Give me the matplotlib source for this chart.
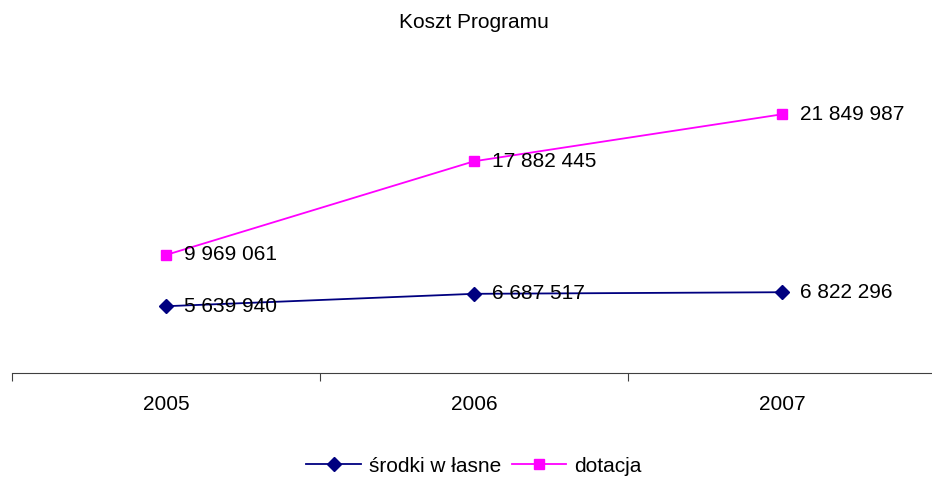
import matplotlib
matplotlib.use('Agg')
import matplotlib.pyplot as plt

# Data
years = ['2005', '2006', '2007']
srodki_wlasne = [5639940, 6687517, 6822296]
dotacja = [9969061, 17882445, 21849987]

plt.rcParams['font.family'] = ['Liberation Sans', 'DejaVu Sans']

fig = plt.figure(figsize=(9.32, 4.78), dpi=100)
ax = fig.add_axes([12 / 932, 1 - 373 / 478, 924 / 932, 296 / 478])

x = range(len(years))
ax.plot(x, srodki_wlasne, color='#000080', marker='D', markersize=7.5, linewidth=1.3,
        label='środki w łasne')
ax.plot(x, dotacja, color='#FF00FF', marker='s', markersize=7, linewidth=1.3,
        label='dotacja')

def fmt(v):
    return f'{v:,}'.replace(',', ' ')

for xi, v in zip(x, srodki_wlasne):
    ax.annotate(fmt(v), (xi, v), xytext=(13, 0), textcoords='offset points',
                ha='left', va='center', fontsize=15)
for xi, v in zip(x, dotacja):
    ax.annotate(fmt(v), (xi, v), xytext=(13, 0), textcoords='offset points',
                ha='left', va='center', fontsize=15)

ax.set_xlim(-0.5, 2.5)
ax.set_ylim(0, 25000000)
ax.set_yticks([])
ax.set_xticks([-0.5, 0.5, 1.5, 2.5])
ax.set_xticklabels([])
ax.set_xticks(list(x), minor=True)
ax.set_xticklabels(years, minor=True, fontsize=15)
ax.tick_params(axis='x', which='major', length=6, color='#404040', direction='out')
ax.tick_params(axis='x', which='minor', length=0, pad=16)

for side in ['top', 'right', 'left']:
    ax.spines[side].set_visible(False)
ax.spines['bottom'].set_color('#404040')

fig.text(474 / 932, 1 - 22 / 478, 'Koszt Programu', ha='center', va='center', fontsize=15)

fig.legend(loc='center', bbox_to_anchor=(474 / 932, 1 - 466 / 478), ncol=2,
           frameon=False, fontsize=15, handlelength=2.6, handletextpad=0.4,
           columnspacing=0.5)

fig.savefig('out.png', dpi=100)
